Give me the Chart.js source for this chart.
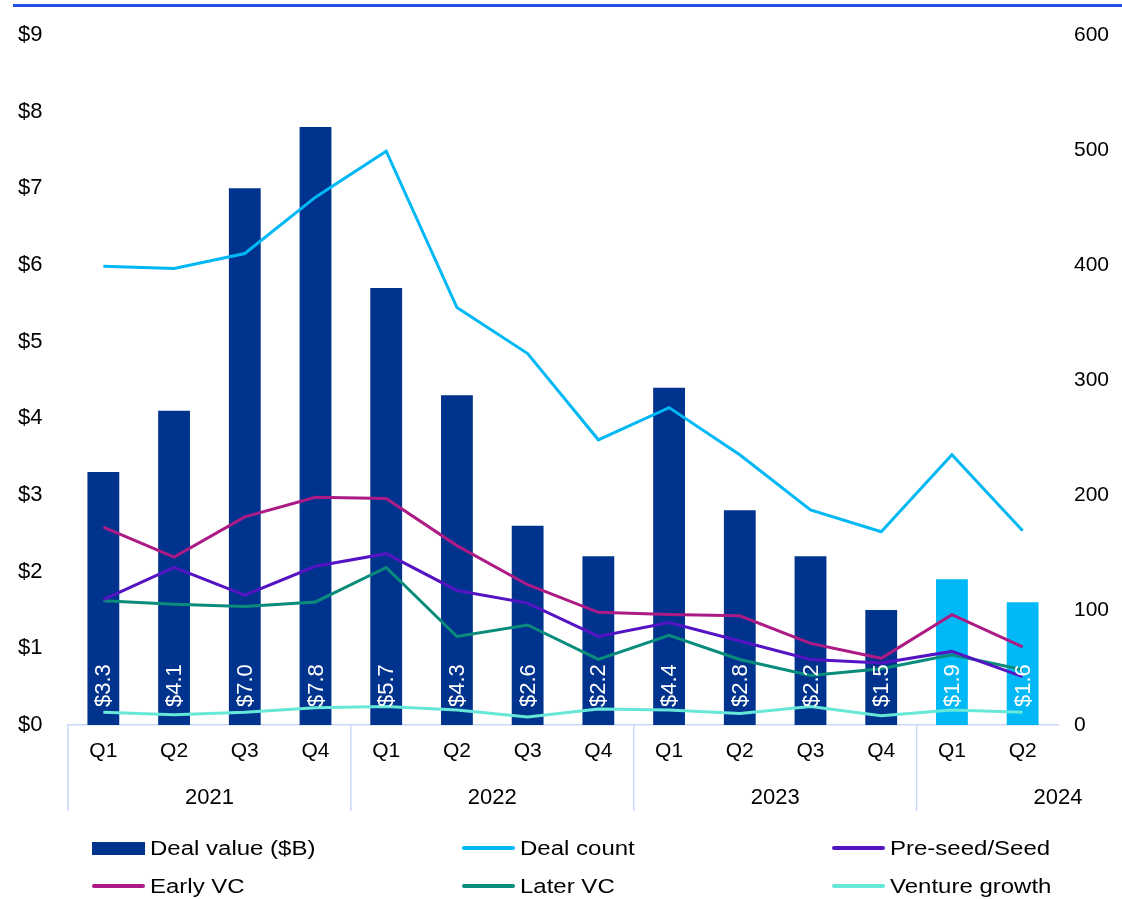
<!DOCTYPE html>
<html>
<head>
<meta charset="utf-8">
<script src="https://cdn.jsdelivr.net/npm/chart.js@4"></script>
<style>
  body { margin: 0; background: #fff; font-family: "Liberation Sans", Arial, sans-serif; }
  #wrap { position: relative; width: 1122px; height: 899px; }
  #legend { position: absolute; left: 0; top: 830px; width: 1122px; }
  .item { position: absolute; display: flex; align-items: center; font-size: 20px; color: #000; height: 36px; white-space: nowrap; }
  .sw { width: 53px; margin-right: 5px; }
  .txt { display: inline-block; transform: scaleX(1.2); transform-origin: left center; }
</style>
</head>
<body>
<div id="wrap">
  <canvas id="chart" width="1122" height="899"></canvas>
  <div id="legend"></div>
</div>
<script>
const quarters = ['Q1', 'Q2', 'Q3', 'Q4', 'Q1', 'Q2', 'Q3', 'Q4', 'Q1', 'Q2', 'Q3', 'Q4', 'Q1', 'Q2'];
const years = ['2021', '2022', '2023', '2024'];
const yearStart = [0, 4, 8, 12];

const dealValue = [3.3, 4.1, 7.0, 7.8, 5.7, 4.3, 2.6, 2.2, 4.4, 2.8, 2.2, 1.5, 1.9, 1.6];
const dealCount = [399, 397, 410, 459, 499, 363, 323, 248, 276, 235, 187, 168, 235, 169];
const preSeed = [109, 137, 113, 138, 149, 117, 106, 77, 89, 73, 57, 54, 64, 42];
const earlyVC = [172, 146, 181, 198, 197, 156, 122, 98, 96, 95, 71, 58, 96, 68];
const laterVC = [108, 105, 103, 107, 137, 77, 87, 57, 78, 57, 43, 49, 61, 48];
const ventureGrowth = [11, 9, 11, 15, 16, 13, 7, 14, 13, 10, 16, 8, 13, 11];

const leftTicks = [0, 1, 2, 3, 4, 5, 6, 7, 8, 9];
const rightTicks = [0, 100, 200, 300, 400, 500, 600];

const darkBlue = '#00338D';
const lightBlue = '#00B8F5';
const barColors = dealValue.map((v, i) => i >= 12 ? lightBlue : darkBlue);
const family = '"Liberation Sans", Arial, sans-serif';
const font = { family, size: 21 };

const decor = {
  id: 'decor',
  beforeDraw(chart) {
    const ctx = chart.ctx;
    ctx.save();
    ctx.fillStyle = '#2350E6';
    ctx.fillRect(13, 4, 1109, 3);
    ctx.restore();
  },
  afterDatasetsDraw(chart) {
    const ctx = chart.ctx;
    const meta = chart.getDatasetMeta(0);
    ctx.save();
    ctx.fillStyle = '#fff';
    ctx.font = '22px ' + family;
    ctx.textAlign = 'left';
    ctx.textBaseline = 'middle';
    meta.data.forEach((bar, i) => {
      ctx.save();
      ctx.translate(bar.x, chart.chartArea.bottom - 18);
      ctx.rotate(-Math.PI / 2);
      ctx.fillText('$' + dealValue[i].toFixed(1), 0, 1);
      ctx.restore();
    });
    ctx.restore();
  },
  afterDraw(chart) {
    const ctx = chart.ctx;
    const x = chart.scales.x;
    const area = chart.chartArea;
    const slot = x.getPixelForValue(1) - x.getPixelForValue(0);
    ctx.save();
    ctx.strokeStyle = '#C8D8F6';
    ctx.lineWidth = 1.5;
    ctx.fillStyle = '#000';
    ctx.font = '22px ' + family;
    ctx.textAlign = 'center';
    ctx.textBaseline = 'middle';
    years.forEach((y, k) => {
      const left = x.getPixelForValue(yearStart[k]) - slot / 2;
      ctx.beginPath();
      ctx.moveTo(left, area.bottom);
      ctx.lineTo(left, area.bottom + 86);
      ctx.stroke();
      ctx.fillText(y, left + slot * 2, area.bottom + 73);
    });
    ctx.restore();
  }
};

function lineSet(label, data, color, order) {
  return {
    type: 'line', label, data, yAxisID: 'y1', borderColor: color, backgroundColor: color,
    borderWidth: 3, pointRadius: 0, tension: 0, order
  };
}

new Chart(document.getElementById('chart'), {
  data: {
    labels: quarters,
    datasets: [
      { type: 'bar', label: 'Deal value ($B)', data: dealValue, backgroundColor: barColors,
        yAxisID: 'y', barPercentage: 0.45, categoryPercentage: 1, order: 10 },
      lineSet('Deal count', dealCount, lightBlue, 1),
      lineSet('Pre-seed/Seed', preSeed, '#5514C4', 3),
      lineSet('Early VC', earlyVC, '#AC1A85', 2),
      lineSet('Later VC', laterVC, '#098C7B', 4),
      lineSet('Venture growth', ventureGrowth, '#66E8D8', 5)
    ]
  },
  options: {
    responsive: false,
    animation: false,
    layout: { padding: { top: 35, left: 18, right: 0, bottom: 84 } },
    plugins: { legend: { display: false }, tooltip: { enabled: false } },
    scales: {
      x: {
        grid: { display: false, drawTicks: false },
        border: { display: true, color: '#C8D8F6', width: 1.5 },
        ticks: { color: '#000', font, padding: 14, maxRotation: 0, autoSkip: false },
        afterFit(s) { s.height = 90; }
      },
      y: {
        position: 'left', min: 0, max: 9,
        grid: { display: false, drawTicks: false },
        border: { display: false },
        afterBuildTicks(s) { s.ticks = leftTicks.map(v => ({ value: v })); },
        ticks: { color: '#000', font: { family, size: 22 }, crossAlign: 'far', padding: 0, callback: v => '$' + v },
        afterFit(s) { s.width = 50; }
      },
      y1: {
        position: 'right', min: 0, max: 600,
        grid: { display: false, drawTicks: false },
        border: { display: false },
        afterBuildTicks(s) { s.ticks = rightTicks.map(v => ({ value: v })); },
        ticks: { color: '#000', font, padding: 16 },
        afterFit(s) { s.width = 64; }
      }
    }
  },
  plugins: [decor]
});

// legend
const legendItems = [
  { label: 'Deal value ($B)', color: darkBlue, bar: true, x: 92, row: 0 },
  { label: 'Deal count', color: lightBlue, x: 462, row: 0 },
  { label: 'Pre-seed/Seed', color: '#5514C4', x: 832, row: 0 },
  { label: 'Early VC', color: '#AC1A85', x: 92, row: 1 },
  { label: 'Later VC', color: '#098C7B', x: 462, row: 1 },
  { label: 'Venture growth', color: '#66E8D8', x: 832, row: 1 }
];
const legend = document.getElementById('legend');
legendItems.forEach(it => {
  const d = document.createElement('div');
  d.className = 'item';
  d.style.left = it.x + 'px';
  d.style.top = (it.row * 38) + 'px';
  const sw = document.createElement('span');
  sw.className = 'sw';
  sw.style.height = it.bar ? '13px' : '4px';
  sw.style.background = it.color;
  if (!it.bar) sw.style.borderRadius = '2px';
  const t = document.createElement('span');
  t.className = 'txt';
  t.textContent = it.label;
  d.appendChild(sw);
  d.appendChild(t);
  legend.appendChild(d);
});
</script>
</body>
</html>
